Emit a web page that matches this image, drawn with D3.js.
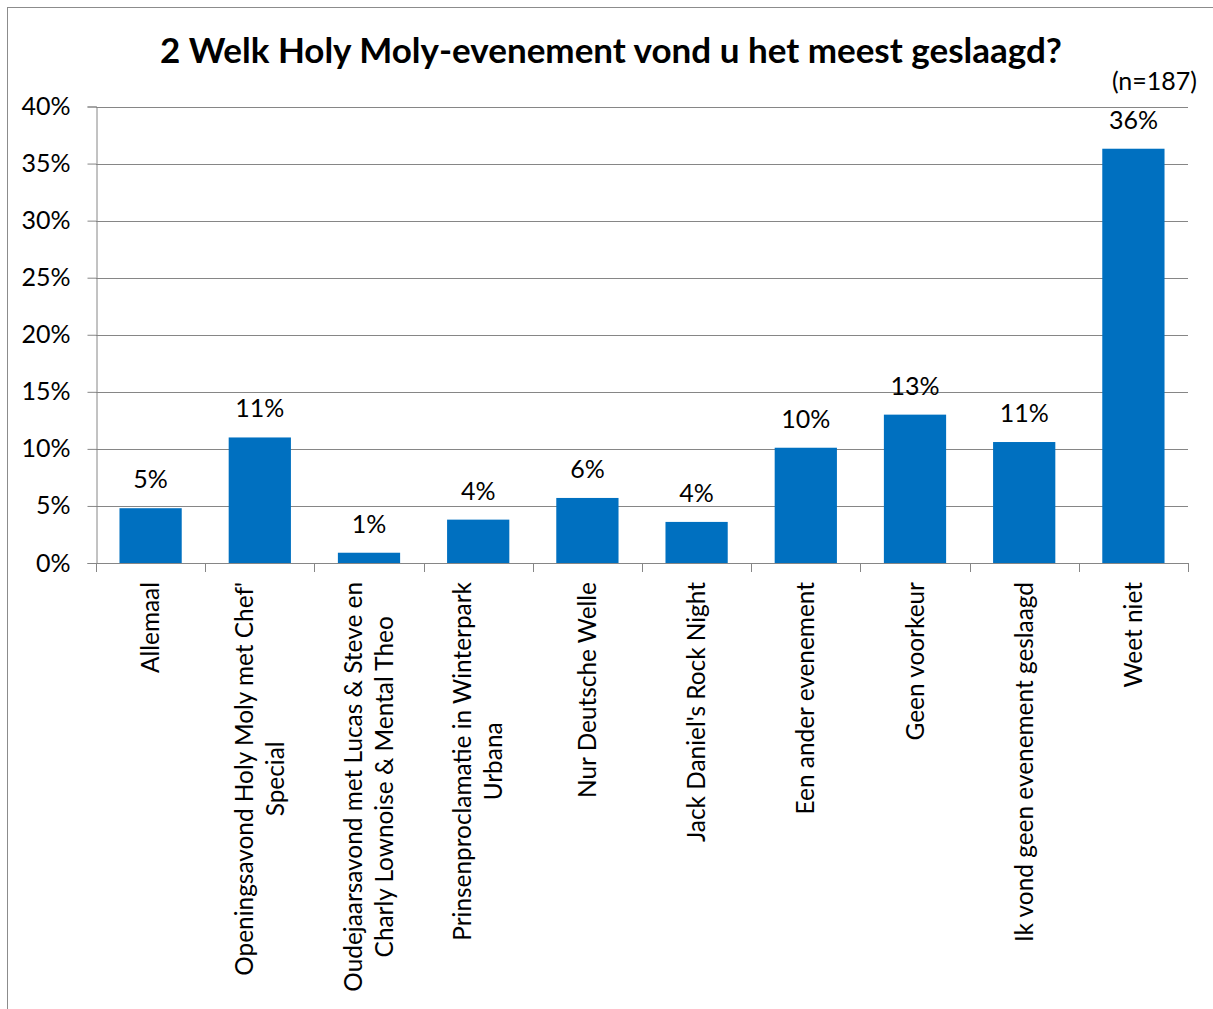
<!DOCTYPE html>
<html>
<head>
<meta charset="utf-8">
<script src="https://cdn.jsdelivr.net/npm/d3@7"></script>
<style>
  html, body { margin: 0; padding: 0; background: #fff; }
  svg { display: block; }
  text { font-family: Lato, "Open Sans", sans-serif; fill: #000; }
</style>
</head>
<body>
<script>
const title = "2 Welk Holy Moly-evenement vond u het meest geslaagd?";
const note = "(n=187)";
const categories = [
  ["Allemaal"],
  ["Openingsavond Holy Moly met Chef'", "Special"],
  ["Oudejaarsavond met Lucas & Steve en", "Charly Lownoise & Mental Theo"],
  ["Prinsenproclamatie in Winterpark", "Urbana"],
  ["Nur Deutsche Welle"],
  ["Jack Daniel's Rock Night"],
  ["Een ander evenement"],
  ["Geen voorkeur"],
  ["Ik vond geen evenement geslaagd"],
  ["Weet niet"]
];
const values = [4.8, 11.0, 0.9, 3.8, 5.7, 3.6, 10.1, 13.0, 10.6, 36.3];
const yTicks = [0, 5, 10, 15, 20, 25, 30, 35, 40];

const W = 1213, H = 1009;
const svg = d3.select("body").append("svg").attr("width", W).attr("height", H);

// chart border
svg.append("rect").attr("x", 7.5).attr("y", 7.5).attr("width", 1215).attr("height", 1020)
  .attr("fill", "none").attr("stroke", "#8c8c8c").attr("stroke-width", 1);

const pLeft = 96, pRight = 1188, pTop = 106.5, pBottom = 563;
const x = d3.scaleBand().domain(d3.range(categories.length)).range([pLeft, pRight]).paddingInner(0.43).paddingOuter(0.215);
const xb = d3.scaleBand().domain(d3.range(categories.length)).range([pLeft, pRight]);
const y = d3.scaleLinear().domain([0, 40]).range([pBottom, pTop]);

// gridlines
svg.append("g").selectAll("line").data(yTicks.filter(d => d > 0)).join("line")
  .attr("x1", pLeft).attr("x2", pRight)
  .attr("y1", d => Math.round(y(d)) + 0.5).attr("y2", d => Math.round(y(d)) + 0.5)
  .attr("stroke", "#868686").attr("stroke-width", 1);

// y axis
const yAxis = d3.axisLeft(y).tickValues(yTicks).tickFormat(d => d + "%").tickSize(9).tickPadding(17);
const gy = svg.append("g").attr("transform", `translate(${pLeft + 0.5},0)`).call(yAxis);
gy.select(".domain").attr("stroke", "#868686");
gy.selectAll(".tick line").attr("stroke", "#868686");
gy.selectAll(".tick text").attr("font-size", 25).attr("font-family", "Lato").attr("fill", "#000");

// bars
svg.append("g").selectAll("rect").data(values).join("rect")
  .attr("x", (d, i) => x(i)).attr("width", x.bandwidth())
  .attr("y", d => y(d)).attr("height", d => pBottom - y(d))
  .attr("fill", "#0070C0");

// x axis
const xAxisG = svg.append("g");
xAxisG.append("line").attr("x1", pLeft).attr("x2", pRight).attr("y1", pBottom + 0.5).attr("y2", pBottom + 0.5)
  .attr("stroke", "#868686");
xAxisG.selectAll("line.t").data(d3.range(categories.length + 1)).join("line").attr("class", "t")
  .attr("x1", i => Math.round(pLeft + i * xb.step()) + 0.5).attr("x2", i => Math.round(pLeft + i * xb.step()) + 0.5)
  .attr("y1", pBottom).attr("y2", pBottom + 9).attr("stroke", "#868686");

// data labels
svg.append("g").selectAll("text").data(values).join("text")
  .attr("x", (d, i) => x(i) + x.bandwidth() / 2)
  .attr("y", d => y(d) - 20)
  .attr("text-anchor", "middle").attr("font-size", 25)
  .text(d => Math.round(d) + "%");

// category labels
const lh = 31;
const labG = svg.append("g").selectAll("g").data(categories).join("g")
  .attr("transform", (d, i) => `translate(${xb(i) + xb.bandwidth() / 2},582) rotate(-90)`);
labG.each(function(lines) {
  const g = d3.select(this);
  const ts = lines.map((ln, j) => g.append("text")
    .attr("font-size", 24.4)
    .attr("y", (j - (lines.length - 1) / 2) * lh)
    .attr("dy", "0.35em")
    .text(ln));
  const L = d3.max(ts, t => t.node().getComputedTextLength());
  ts.forEach(t => t.attr("x", -L / 2).attr("text-anchor", "middle"));
});

// title
svg.append("text").attr("x", 611).attr("y", 63).attr("text-anchor", "middle")
  .attr("font-size", 35).attr("font-weight", "bold").text(title);
svg.append("text").attr("x", 1197).attr("y", 90).attr("text-anchor", "end")
  .attr("font-size", 25).text(note);
</script>
</body>
</html>
